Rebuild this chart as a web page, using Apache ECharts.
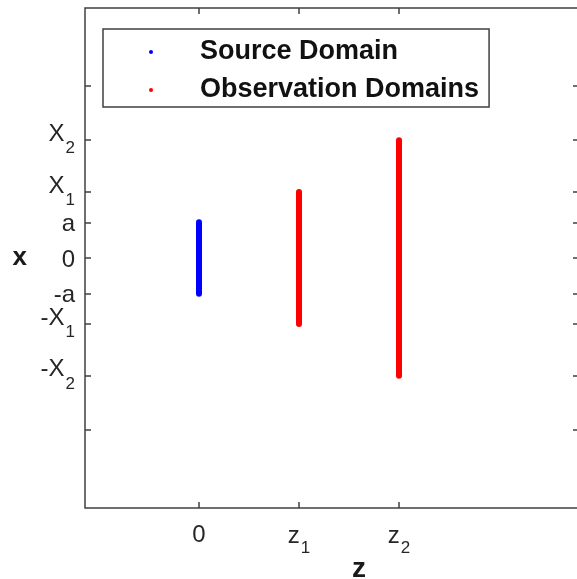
<!DOCTYPE html>
<html><head><meta charset="utf-8">
<script src="https://cdn.jsdelivr.net/npm/echarts@6/dist/echarts.min.js"></script>
<style>html,body{margin:0;padding:0;background:#fff}#c{width:577px;height:579px}</style>
</head><body><div id="c"></div>
<script>
// ---- data ----
const seriesNames = ['Source Domain', 'Observation Domains'];
const zTickValues = [0, 1, 2];
const zTickLabels = ['0', 'z|1', 'z|2'];
const xTickValues = [-4.82, -3.3, -1.85, -1, 0, 1, 1.85, 3.3, 4.82];
const xTickLabels = ['', '-X|2', '-X|1', '-a', '0', 'a', 'X|1', 'X|2', ''];
const xLabelValues = [-3.3, -1.85, -1, 0, 1, 1.85, 3.3];
const sourceLine = [[0, -1], [0, 1]];
const obs1Line = [[1, -1.85], [1, 1.85]];
const obs2Line = [[2, -3.3], [2, 3.3]];
const zRange = [-1.14, 3.8];
const xRange = [-7, 7];

const FONT = 'Liberation Sans, Arial, sans-serif';
const AX = '#404040';

function lookup(vals, labels, v) {
  for (let i = 0; i < vals.length; i++) if (Math.abs(vals[i] - v) < 1e-6) return labels[i];
  return '';
}
function rich(s, b, p, sub) {
  const parts = s.split('|');
  if (parts.length === 2) return '{' + b + '|' + parts[0] + '}{' + sub + '|' + parts[1] + '}';
  return s ? '{' + p + '|' + s + '}' : '';
}

const chart = echarts.init(document.getElementById('c'), null, {renderer: 'canvas'});
const tickCommon = {inside: true, length: 6, lineStyle: {color: AX, width: 1.5}};
const lineOff = {show: false, onZero: false};
chart.setOption({
  animation: false,
  backgroundColor: '#fff',
  grid: {left: 85, top: 8, width: 494, height: 500, show: true, borderColor: AX, borderWidth: 1.5,
         containLabel: false, outerBoundsMode: 'none'},
  legend: {
    left: 103, top: 29, orient: 'vertical', selectedMode: false,
    data: seriesNames.map(n => ({name: n, icon: 'circle'})),
    itemWidth: 4, itemHeight: 4, itemGap: 10,
    padding: [9, 10, 3, 46],
    borderColor: AX, borderWidth: 1.5, backgroundColor: '#fff',
    textStyle: {fontSize: 27, fontWeight: 'bold', color: '#111', lineHeight: 28, fontFamily: FONT,
                padding: [0, 0, 0, 42]}
  },
  xAxis: [{
    type: 'value', min: zRange[0], max: zRange[1], position: 'bottom',
    axisLine: lineOff, splitLine: {show: false},
    axisTick: Object.assign({customValues: zTickValues}, tickCommon),
    axisLabel: {
      customValues: zTickValues, margin: 15, color: '#262626', fontFamily: FONT,
      formatter: v => rich(lookup(zTickValues, zTickLabels, v), 'b', 'p', 's'),
      rich: {
        b: {fontSize: 24, fontFamily: FONT, color: '#262626', padding: [0, 0, 8, 0]},
        p: {fontSize: 24, fontFamily: FONT, color: '#262626', padding: [0, 0, 8, 0]},
        s: {fontSize: 17, fontFamily: FONT, color: '#262626', padding: [17, 0, 0, 1]}
      }
    },
    name: 'z', nameLocation: 'middle', nameGap: 47, nameMoveOverlap: false,
    nameTextStyle: {fontSize: 28, fontWeight: 'bold', color: '#1a1a1a', fontFamily: FONT, padding: [0, 0, 0, 54]}
  }, {
    type: 'value', min: zRange[0], max: zRange[1], position: 'top',
    axisLine: lineOff, splitLine: {show: false}, axisLabel: {show: false},
    axisTick: Object.assign({customValues: zTickValues}, tickCommon)
  }],
  yAxis: [{
    type: 'value', min: xRange[0], max: xRange[1], position: 'left',
    axisLine: lineOff, splitLine: {show: false},
    axisTick: Object.assign({customValues: xTickValues}, tickCommon),
    axisLabel: {
      customValues: xLabelValues, margin: 10, color: '#262626', fontFamily: FONT,
      formatter: v => rich(lookup(xTickValues, xTickLabels, v), 'b', 'p', 's'),
      rich: {
        b: {fontSize: 24, fontFamily: FONT, color: '#262626', padding: [0, 0, 12, 0]},
        p: {fontSize: 24, fontFamily: FONT, color: '#262626', padding: [4, 0, 0, 0]},
        s: {fontSize: 17, fontFamily: FONT, color: '#262626', padding: [16, 0, 0, 1]}
      }
    },
    name: 'x', nameLocation: 'middle', nameGap: 58, nameRotate: 0, nameMoveOverlap: false,
    nameTextStyle: {fontSize: 26, fontWeight: 'bold', color: '#1a1a1a', fontFamily: FONT}
  }, {
    type: 'value', min: xRange[0], max: xRange[1], position: 'right',
    axisLine: lineOff, splitLine: {show: false}, axisLabel: {show: false},
    axisTick: Object.assign({customValues: xTickValues}, tickCommon)
  }],
  series: [
    {name: seriesNames[0], type: 'line', data: sourceLine, showSymbol: false, symbol: 'none', color: '#0000ff',
     lineStyle: {width: 6, cap: 'round', color: '#0000ff'}, silent: true},
    {name: seriesNames[1], type: 'line', data: obs1Line, showSymbol: false, symbol: 'none', color: '#ff0000',
     lineStyle: {width: 6, cap: 'round', color: '#ff0000'}, silent: true},
    {name: seriesNames[1], type: 'line', data: obs2Line, showSymbol: false, symbol: 'none', color: '#ff0000',
     lineStyle: {width: 6, cap: 'round', color: '#ff0000'}, silent: true}
  ]
});
</script></body></html>
